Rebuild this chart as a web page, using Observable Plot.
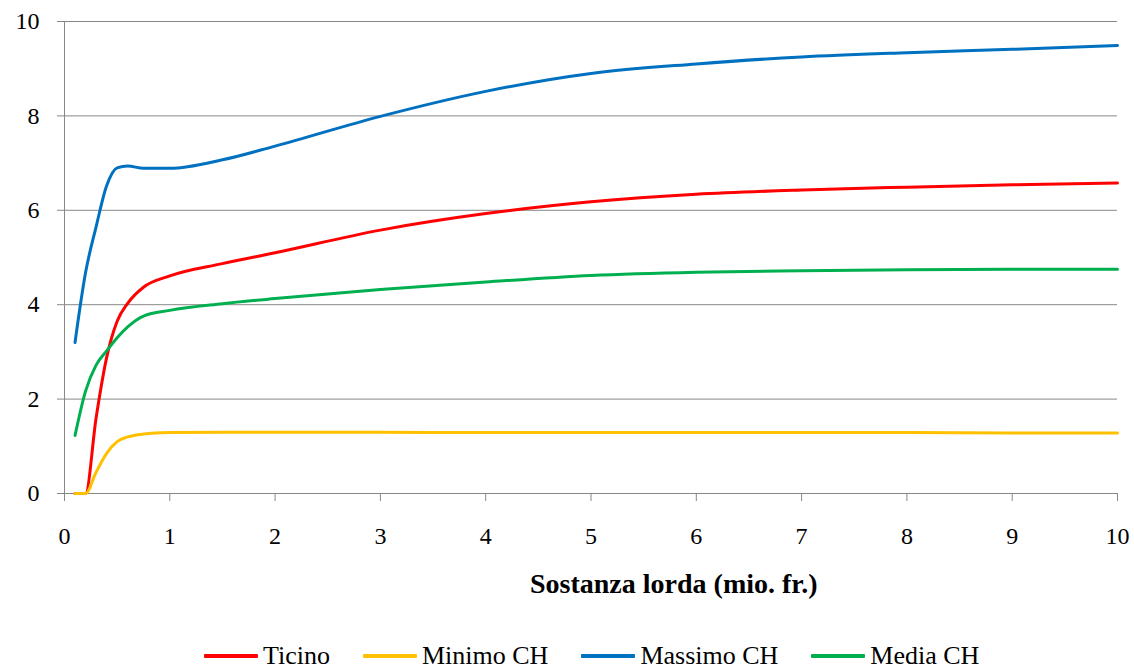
<!DOCTYPE html>
<html>
<head>
<meta charset="utf-8">
<script src="https://cdn.jsdelivr.net/npm/d3@7"></script>
<script src="https://cdn.jsdelivr.net/npm/@observablehq/plot@0.6"></script>
<style>
  html, body { margin: 0; padding: 0; background: #fff; }
  #wrap { position: relative; width: 1134px; height: 669px; overflow: hidden; font-family: "Liberation Serif", serif; color: #000; }
  #chart { position: absolute; left: 0; top: 0; }
  #chart svg, #chart svg text { font-family: "Liberation Serif", serif !important; font-size: 24px !important; }
  #xtitle { position: absolute; top: 570px; left: 530px; font-size: 28px; line-height: 28px; font-weight: bold; white-space: nowrap; }
  #legend { position: absolute; top: 643px; left: 204px; display: flex; align-items: center; font-size: 26px; line-height: 26px; white-space: nowrap; }
  .item { display: flex; align-items: center; margin-right: 33px; }
  .swatch { width: 54px; height: 4px; margin-right: 5px; border-radius: 1px; }
</style>
</head>
<body>
<div id="wrap">
  <div id="chart"></div>
  <div id="xtitle"></div>
  <div id="legend"></div>
</div>
<script>
// Data
const xValues = [0.1, 0.2, 0.3, 0.4, 0.5, 0.6, 0.75, 1, 1.5, 2, 3, 4, 5, 6, 7, 8, 9, 10];
const ticino    = [0, 0, 1.6, 2.88, 3.65, 4.03, 4.37, 4.61, 4.87, 5.1, 5.58, 5.93, 6.18, 6.34, 6.43, 6.49, 6.54, 6.58];
const minimoCH  = [0, 0, 0.45, 0.85, 1.1, 1.2, 1.26, 1.29, 1.30, 1.30, 1.30, 1.29, 1.29, 1.29, 1.29, 1.29, 1.28, 1.28];
const massimoCH = [3.2, 4.68, 5.65, 6.52, 6.9, 6.94, 6.89, 6.89, 7.07, 7.36, 7.99, 8.52, 8.9, 9.1, 9.25, 9.34, 9.41, 9.49];
const mediaCH   = [1.23, 2.17, 2.72, 3.02, 3.3, 3.53, 3.76, 3.88, 4.02, 4.13, 4.32, 4.48, 4.62, 4.69, 4.72, 4.74, 4.75, 4.75];
const seriesNames = ["Ticino", "Minimo CH", "Massimo CH", "Media CH"];
const seriesColors = ["#FF0000", "#FFC000", "#0070C0", "#00B050"];
const xTicks = [0, 1, 2, 3, 4, 5, 6, 7, 8, 9, 10];
const yTicks = [0, 2, 4, 6, 8, 10];
const xTitle = "Sostanza lorda (mio. fr.)";

const seriesValues = [ticino, minimoCH, massimoCH, mediaCH];
const tables = seriesValues.map(vals => xValues.map((x, i) => ({x, y: vals[i]})));

const gray = "#888888";

const chart = Plot.plot({
  width: 1134,
  height: 560,
  marginLeft: 64,
  marginRight: 17,
  marginTop: 21,
  marginBottom: 67,
  style: { fontFamily: "Liberation Serif, serif", fontSize: "24px", color: "#000", background: "#fff" },
  x: { domain: [0, 10], ticks: xTicks, label: null },
  y: { domain: [0, 10], ticks: yTicks, label: null },
  marks: [
    Plot.gridY(yTicks, { stroke: gray, strokeOpacity: 1, strokeWidth: 1 }),
    Plot.ruleX([0], { stroke: gray, strokeWidth: 1 }),
    Plot.axisX(xTicks, { tickSize: 8, tickPadding: 25, stroke: gray, strokeOpacity: 1, fill: "#000", tickFormat: d => String(d) }),
    Plot.axisY(yTicks, { tickSize: 7, tickPadding: 18, stroke: gray, strokeOpacity: 1, fill: "#000", tickFormat: d => String(d) }),
    ...tables.map((t, i) => Plot.line(t, { x: "x", y: "y", stroke: seriesColors[i], strokeWidth: 3, curve: "monotone-x" }))
  ]
});
document.getElementById("chart").appendChild(chart);
document.getElementById("xtitle").textContent = xTitle;

const legend = document.getElementById("legend");
seriesNames.forEach((name, i) => {
  const item = document.createElement("div");
  item.className = "item";
  const sw = document.createElement("div");
  sw.className = "swatch";
  sw.style.background = seriesColors[i];
  const label = document.createElement("span");
  label.textContent = name;
  item.appendChild(sw);
  item.appendChild(label);
  legend.appendChild(item);
});
</script>
</body>
</html>
